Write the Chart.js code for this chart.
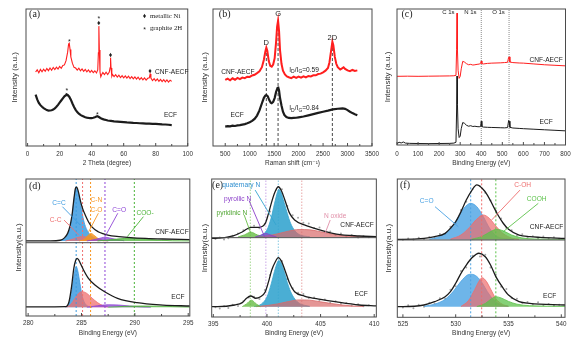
<!DOCTYPE html>
<html><head><meta charset="utf-8">
<script src="https://cdn.jsdelivr.net/npm/chart.js@4/dist/chart.umd.min.js"></script>
<style>
html,body{margin:0;padding:0;background:#fff;width:576px;height:342px;overflow:hidden;position:relative}
canvas{position:absolute}
</style></head><body>
<script>
// ---------- tick labels ----------
const aTicks=[0,20,40,60,80,100];
const bTicks=[500,1000,1500,2000,2500,3000,3500];
const cTicks=[0,100,200,300,400,500,600,700,800];
const dTicks=[280,285,290,295];
const eTicks=[395,400,405,410];
const fTicks=[525,530,535,540];

// ---------- (a) XRD ----------
const xrdCnf=[[5,54.0],[6,55.6],[7,53.4],[8,55.9],[9,54.2],[10,56.1],[11,54.5],[12,56.6],[13,55.0],[14,57.0],[15,55.3],[16,57.3],[17,55.8],[18,57.6],[19,56.1],[20,58.1],[21,56.7],[22,58.8],[23,59.2],[24,62.3],[25,68.5],[25.6,74.5],[26,75.0],[26.5,70.5],[27,65.0],[28,60.3],[29,57.4],[30,56.9],[31,55.4],[32,56.8],[33,54.9],[34,56.2],[35,54.5],[36,55.9],[37,54.2],[38,55.5],[39,53.8],[40,55.2],[41,53.5],[42,54.9],[43,53.3],[43.8,55.5],[44.2,68],[44.5,87.5],[44.8,70],[45.2,54],[45.7,50.5],[46.3,52.2],[47,53.6],[48,52.1],[49,53.8],[50,52.2],[51,53.9],[51.5,57],[51.8,64.5],[52.1,57],[52.6,51.0],[53,52.2],[54,50.6],[55,52.0],[56,50.3],[57,51.7],[58,50.0],[59,51.4],[60,49.8],[61,51.2],[62,49.5],[63,50.9],[64,49.2],[65,50.6],[66,49.0],[67,50.4],[68,48.8],[69,50.2],[70,48.5],[71,49.9],[72,48.3],[73,49.7],[74,48.1],[75,49.4],[76,49.8],[76.5,52.5],[77,49.6],[78,47.8],[79,49.2],[80,47.5],[81,48.9],[82,47.2],[83,48.6],[84,47.0],[85,48.4],[86,46.8],[87,48.2],[88,46.6],[89,48.0],[90,47.2]];
const xrdEcf=[[5,37.5],[6,34.0],[7,31.5],[8,29.8],[9,28.6],[10,27.6],[11,26.9],[12,26.2],[13,25.8],[14,25.9],[15,26.1],[16,26.6],[17,27.5],[18,28.6],[19,30.0],[20,31.6],[21,33.2],[22,34.8],[23,36.3],[24,37.2],[24.5,37.6],[25,37.3],[26,36.0],[27,33.8],[28,31.0],[29,28.5],[30,26.4],[31,24.8],[32,23.6],[33,22.7],[34,22.0],[35,21.5],[36,21.0],[37,20.7],[38,20.5],[39,20.4],[40,20.4],[41,20.6],[42,21.0],[43,21.5],[43.5,21.7],[44,21.5],[45,20.8],[46,20.0],[47,19.6],[48,19.2],[49,19.0],[50,18.6],[52,18.3],[54,18.0],[56,17.8],[58,17.6],[60,17.4],[62,17.2],[64,17.1],[66,16.9],[68,16.8],[70,16.6],[72,16.5],[74,16.4],[76,16.3],[78,16.2],[80,16.1],[82,16.0],[84,15.8],[86,15.7],[88,15.5],[90,15.3]];

// ---------- (b) Raman ----------
const ramanCnf=[[500,48.2],[550,49.2],[600,48.0],[650,49.4],[700,48.4],[750,49.7],[800,48.8],[850,49.9],[900,49.5],[950,50.6],[1000,50.4],[1050,51.5],[1100,52.0],[1150,53.2],[1200,54.5],[1250,57.5],[1290,63],[1320,69],[1340,71.8],[1360,69.5],[1390,62],[1420,58.5],[1450,57.9],[1480,59.5],[1510,64],[1540,76],[1560,87],[1580,91.5],[1600,84],[1620,70],[1650,60],[1680,55],[1720,52.2],[1760,50.8],[1800,50.2],[1850,49.5],[1900,50.6],[1950,49.7],[2000,50.7],[2050,49.9],[2100,50.9],[2150,50.1],[2200,51.1],[2250,50.8],[2300,51.6],[2350,51.6],[2400,52.5],[2450,52.8],[2500,53.8],[2550,55.0],[2600,57.0],[2630,61],[2660,68.5],[2690,76.1],[2710,73.5],[2740,65],[2770,60],[2800,57.5],[2850,55.8],[2880,56.5],[2920,57.5],[2950,56.3],[3000,55.2],[3050,54.6],[3100,55.5],[3150,54.8],[3200,55.2]];
const ramanEcf=[[500,14.1],[550,14.5],[600,14.3],[650,14.8],[700,14.6],[750,15.0],[800,15.2],[850,15.6],[900,16.0],[950,16.6],[1000,17.3],[1050,18.3],[1100,19.8],[1150,22.2],[1200,26],[1250,31.2],[1290,35.2],[1320,36.8],[1340,37.2],[1370,36.2],[1400,33.5],[1430,31.6],[1450,31.2],[1480,32.2],[1510,35],[1540,39.5],[1570,42.4],[1585,42.6],[1600,40.5],[1620,35],[1650,29.5],[1680,25],[1710,22.6],[1750,21.2],[1800,20.5],[1850,20.3],[1900,20.5],[1950,20.6],[2000,20.9],[2100,21.5],[2200,22.4],[2300,23.3],[2400,24.2],[2500,25.0],[2600,25.8],[2700,26.7],[2800,27.2],[2900,27.4],[2950,27.1],[3000,26.2],[3050,25.0],[3100,24.0],[3150,23.2],[3200,22.5]];
const ramanPeaks=[[1340,71],[1580,91.5],[2690,76]];

// ---------- (c) XPS survey ----------
const xpsCnf=[[0,50.5],[50,50.6],[100,50.5],[150,50.6],[200,50.7],[250,50.8],[270,50.9],[280,51.2],[283,70],[285,97],[287,70],[290,55],[295,49],[300,50.5],[305,56],[312,61.5],[320,61],[330,59.8],[340,59.0],[350,59.3],[360,58.8],[370,59.0],[380,59.3],[390,59.5],[397,60.0],[400,61.8],[403,59.8],[410,59.6],[430,60.0],[450,60.2],[470,60.3],[490,60.4],[510,60.6],[525,60.8],[530,64.5],[533,64.8],[536,61.0],[550,60.6],[580,60.3],[600,60.2],[650,59.6],[700,59.0],[750,58.6],[800,58.2]];
const xpsEcf=[[0,1.0],[10,2.0],[20,1.5],[30,2.2],[40,1.4],[60,1.2],[100,1.1],[150,1.0],[200,1.1],[250,1.2],[270,1.4],[280,2.0],[283,25],[285,50.7],[287,30],[290,12],[295,5.5],[300,6.5],[305,12],[312,16.5],[320,16],[330,14.5],[340,13.8],[350,14.2],[360,13.6],[370,13.8],[380,13.5],[390,13.4],[397,13.6],[400,17.5],[403,13.6],[410,13.2],[430,13.0],[450,12.9],[470,12.8],[490,12.7],[510,12.6],[525,12.8],[530,18],[533,17.5],[536,13.0],[550,12.5],[580,12.2],[600,12.0],[650,11.6],[700,11.2],[750,10.8],[800,10.4]];
const xpsLines=[400,532];

// ---------- (d) C 1s ----------
const dCnfEnv=[[279.8,54.8],[282,54.9],[283,55.3],[283.4,57.0],[283.7,60.3],[283.9,65],[284.1,73],[284.3,86],[284.45,93.5],[284.55,94],[284.7,91],[284.9,84],[285.1,78.5],[285.35,73.7],[285.65,68.8],[285.95,65.2],[286.56,61.5],[287.0,60.1],[287.47,59.1],[288.5,58.0],[289.6,57.2],[291,56.6],[292.6,56.2],[295.15,55.8]];
const dCnfCdC=[[283.0,55.0],[283.4,56.5],[283.7,59.5],[283.9,64],[284.1,72],[284.3,85],[284.45,92.8],[284.55,93.2],[284.7,90],[284.9,82],[285.1,73.5],[285.3,67],[285.6,61.5],[286.0,58],[286.5,56.2],[287.0,55.3],[287.5,54.9]];
const dCnfCmC=[[283.5,54.8],[284,55.6],[284.5,57],[285.1,58],[285.7,57.1],[286.3,55.8],[287,55],[287.5,54.8]];
const dCnfCN=[[284.8,54.8],[285.3,56.3],[285.6,58.8],[285.9,60.3],[286.2,58.8],[286.6,56.3],[287.1,54.9]];
const dCnfCO=[[285.5,54.8],[286.3,55.9],[286.9,57.1],[287.2,57.5],[287.6,57.0],[288.3,55.8],[289,54.9]];
const dCnfCOO=[[286.5,54.8],[287.5,55.5],[288.5,56.3],[289.5,56.7],[290.5,56.5],[291.5,55.9],[292.5,55.3],[293.5,54.9],[295.15,54.8]];
const dEcfEnv=[[279.8,6.6],[282,6.7],[283.52,6.8],[283.83,10.4],[284.07,21.4],[284.28,34.8],[284.45,40.5],[284.58,42.1],[284.72,41.2],[284.89,38.5],[285.19,33.6],[285.65,27.5],[286.26,22.6],[287.17,17.7],[288.38,12.9],[290.2,9.7],[292.63,8.0],[295.15,7.3]];
const dEcfCdC=[[283.5,6.4],[283.8,8.5],[284.0,14],[284.2,25],[284.4,34],[284.5,36],[284.65,33],[284.85,24],[285.05,15],[285.3,9.5],[285.6,7.2],[286,6.5]];
const dEcfCmC=[[283.6,6.4],[284.0,8.5],[284.4,13],[284.8,17],[285.1,17.7],[285.5,16.5],[286.0,13],[286.5,9.8],[287.0,7.6],[287.5,6.6]];
const dEcfCO=[[285.5,6.4],[286.5,7.5],[287.5,8.2],[288.5,8.0],[289.5,7.3],[290.5,6.7],[291.5,6.4]];
const dEcfCOO=[[287.5,6.4],[289,7.0],[290.5,7.3],[292,7.2],[293.5,6.9],[295.15,6.6]];
const dLines=[284.5,285.1,285.85,287.2,289.95];

// ---------- (e) N 1s ----------
const eCnfEnv=[[394.85,57],[395.2,57],[396.85,58.7],[397.73,61.8],[398.5,65],[399.25,65],[399.85,67.9],[400.15,75.1],[400.45,83.6],[400.75,90.5],[401.06,94.4],[401.35,91.5],[401.67,84.8],[402.12,75.1],[402.58,70.3],[403.49,66.7],[405.0,63],[406.5,60.1],[408.6,58.7],[410.2,58.2]];
const eCnfQ=[[399.0,58.2],[399.5,59.5],[400.0,63],[400.4,72],[400.7,82],[401.0,91],[401.1,92.5],[401.3,90.5],[401.6,83],[401.9,75],[402.2,68],[402.6,62.5],[403.0,59.8],[403.5,58.6],[404,58.1]];
const eCnfOx=[[399.0,58.0],[400.0,58.8],[401,60.3],[402,62.2],[403,63.4],[404,63.2],[405,61.8],[406,60.2],[407,59],[408,58.3],[409,58.0]];
const eCnfPyd=[[397.3,58],[397.9,59.5],[398.5,61.5],[399.1,59.5],[399.7,58]];
const eCnfPyr=[[398.9,58],[399.4,59.2],[399.9,60.5],[400.4,59.2],[400.9,58]];
const eCnfDots=[[395.2,56.5],[395.6,57.6],[396.0,56.2],[396.4,57.0],[396.8,58.9],[397.3,60.5],[397.8,62.8],[398.3,63.9],[398.8,66.2],[399.3,64.4],[399.8,67.5],[400.3,76.5],[401.4,92.5],[401.9,80.5],[402.4,73.8],[402.9,72.0],[403.4,68.3],[403.9,67.8],[404.4,64.5],[404.9,64.8],[405.4,61.5],[405.9,62.0],[406.4,59.5],[406.9,60.5],[407.4,58.3],[407.9,59.4],[408.5,57.6],[409.0,58.7],[409.5,57.8]];
const eEcfEnv=[[394.85,7.5],[395.4,7.5],[397,8.7],[397.7,10.4],[398.1,13.6],[398.5,15.2],[398.95,13.6],[399.4,14.7],[399.85,18.3],[400.15,25.6],[400.45,34.1],[400.75,39.5],[401.06,43],[401.35,40.5],[401.67,34.1],[402.12,24.4],[402.58,18.3],[403.49,15.2],[405,12.8],[406.5,10.9],[408.6,8.7],[410.2,8]];
const eEcfQ=[[398.8,7.5],[399.5,9.5],[400,14.5],[400.4,24],[400.7,33],[401.0,40],[401.1,41],[401.3,39.5],[401.6,33],[401.9,25],[402.2,18.5],[402.6,13],[403,10],[403.5,8.5],[404,7.8]];
const eEcfOx=[[399,7.5],[400,8.3],[401,9.5],[402,11.2],[403,12.4],[404,12.2],[405,11],[406,9.8],[407,8.7],[408,8],[409,7.6]];
const eEcfPyd=[[397.7,7.5],[398.1,9.5],[398.55,12.2],[399.0,9.5],[399.4,7.5]];
const eEcfDots=[[395.2,7.0],[395.6,6.2],[396.0,7.8],[396.4,6.5],[396.8,8.9],[397.3,8.0],[397.8,11.5],[398.3,14.2],[398.8,14.6],[399.3,13.0],[399.8,19.5],[400.3,30.5],[401.4,40.5],[401.9,27.5],[402.4,20.8],[402.9,17.5],[403.4,16.6],[403.9,13.8],[404.4,14.2],[404.9,12.0],[405.4,12.6],[405.9,10.4],[406.4,11.5],[406.9,9.6],[407.4,10.2],[407.9,8.4],[408.5,9.2],[409.0,7.8],[409.5,8.5]];
const eLines=[398.45,399.9,401.06,403.25];

// ---------- (f) O 1s ----------
const fCnfEnv=[[524.47,56.4],[525,56.4],[527,57.1],[528,58.3],[529,60.7],[529.5,64.4],[530,69.1],[530.5,76.4],[531,84.8],[531.5,91.5],[532,95.7],[532.5,93.3],[533,88.4],[533.5,81.2],[534,74],[534.5,68],[535,63.6],[536,59.5],[537,58.3],[538,57.8],[540.35,57.1]];
const fCnfCdO=[[527.5,56.5],[528.5,58.5],[529.5,64],[530.2,72],[530.8,79],[531.4,82.4],[532,80],[532.6,73],[533.2,64.5],[533.8,59],[534.5,57],[535.5,56.4]];
const fCnfCOH=[[529.5,56.5],[530.5,59.5],[531.3,65],[532,71],[532.6,74],[533.2,71.5],[533.8,66],[534.5,60.5],[535.3,57.3],[536,56.5]];
const fCnfCOOH=[[531.5,56.4],[532.5,58.5],[533.3,62],[533.9,63.6],[534.5,62.5],[535.3,59.5],[536.2,57.5],[537.5,56.6],[540.35,56.4]];
const fCnfDots=[[525.0,56.0],[525.5,57.0],[526.0,56.2],[526.5,57.5],[527.0,56.6],[527.5,58.0],[528.0,57.5],[528.5,60.2],[529.0,60.0],[529.5,65.5],[530.0,68.0],[530.5,77.5],[531.0,83.5],[531.6,92.5],[532.3,94.8],[532.8,90.0],[533.3,84.5],[533.8,77.0],[534.3,71.5],[534.8,64.5],[535.3,63.0],[535.8,59.0],[536.3,60.0],[536.8,57.5],[537.3,58.6],[537.8,57.2],[538.3,58.4],[538.8,57.0],[539.3,57.9],[539.8,56.8]];
const fEcfEnv=[[524.47,7.7],[525,7.7],[527,8.9],[528,11.3],[529,14.9],[529.5,18.5],[530,24.6],[530.5,31.8],[531,37.8],[531.5,42.7],[532.2,46.3],[532.8,43.8],[533.3,37.8],[533.8,29.4],[534.5,21],[535,16.1],[536,11.3],[537,10.1],[540.35,8.9]];
const fEcfCdO=[[527,8],[528,9.5],[529,13],[529.8,19],[530.5,26],[531.1,30.5],[531.5,31.1],[532,29.5],[532.5,25],[533,18.5],[533.6,12.5],[534.3,9],[535,8]];
const fEcfCOH=[[530.5,7.8],[531.2,12],[531.8,20],[532.2,26],[532.5,28.6],[532.9,26],[533.3,20.5],[533.8,13.5],[534.4,9.5],[535,8]];
const fEcfCOOH=[[532,7.8],[532.8,10],[533.4,13.5],[533.8,14.9],[534.3,14],[535,11.5],[535.8,9.5],[537,8.4],[540.35,7.9]];
const fEcfDots=[[525.0,7.0],[525.5,8.8],[526.0,6.5],[526.5,9.0],[527.0,7.6],[527.5,10.5],[528.0,10.0],[528.5,13.8],[529.0,13.5],[529.5,20.0],[530.0,22.5],[530.5,33.5],[531.0,36.0],[531.6,44.5],[532.3,44.0],[532.8,45.2],[533.3,36.0],[533.8,31.0],[534.3,22.0],[534.8,20.5],[535.3,14.0],[535.8,13.5],[536.3,10.5],[536.8,11.0],[537.3,9.2],[537.8,10.8],[538.3,8.8],[538.8,9.6],[539.3,8.4],[539.8,9.0]];
const fLines=[531.42,532.46,533.8];

// ---------- helpers ----------
const SANS='"Liberation Sans", Arial, "DejaVu Sans", sans-serif';
const SERIF='"Liberation Serif", "Times New Roman", "DejaVu Serif", serif';
Chart.defaults.font.family=SANS;
const RED='#ff1e1e', BLK='#1c1c1c';
function P(a){return a.map(p=>({x:p[0],y:p[1]}));}
function line(a,color,w,extra){return Object.assign({data:P(a),borderColor:color,borderWidth:w,pointRadius:0,tension:0,fill:false},extra||{});}
function smooth(a,color,w){return {data:P(a),borderColor:color,borderWidth:w,pointRadius:0,cubicInterpolationMode:'monotone',fill:false};}
function area(a,stroke,fillc,base){return {data:P(a),borderColor:stroke,borderWidth:0.8,backgroundColor:fillc,pointRadius:0,cubicInterpolationMode:'monotone',fill:{value:base}};}
function vline(x,y0,y1,color,dash,w){return {data:[{x:x,y:y0},{x:x,y:y1}],borderColor:color,borderWidth:w||1,borderDash:dash||[],pointRadius:0,fill:false};}
function seg(a,color){return {data:P(a),borderColor:color,borderWidth:0.9,pointRadius:0,fill:false};}
function dots(a,color){return {data:P(a),showLine:false,pointRadius:1,pointBackgroundColor:color,pointBorderWidth:0,borderColor:color};}

function makePanel(o){
  const cv=document.createElement('canvas');
  cv.width=o.w; cv.height=o.h;
  cv.style.left=o.left+'px'; cv.style.top=o.top+'px';
  cv.style.width=o.w+'px'; cv.style.height=o.h+'px';
  document.body.appendChild(cv);
  const n=o.datasets.length;
  o.datasets.forEach((d,i)=>{d.order=n-i;});
  const deco={id:'deco',afterDraw(ch){
    const ctx=ch.ctx,a=ch.chartArea,xs=ch.scales.x,ys=ch.scales.y;
    ctx.save();
    ctx.strokeStyle='#4b4b4b'; ctx.lineWidth=1;
    ctx.strokeRect(a.left,a.top,a.right-a.left,a.bottom-a.top);
    const t=xs.ticks.map(k=>k.value);
    ctx.beginPath();
    t.forEach((v,i)=>{const px=xs.getPixelForValue(v);ctx.moveTo(px,a.bottom);ctx.lineTo(px,a.bottom-3);
      if(i<t.length-1){const pm=xs.getPixelForValue((v+t[i+1])/2);ctx.moveTo(pm,a.bottom);ctx.lineTo(pm,a.bottom-2);}});
    ctx.stroke();
    if(o.divider!=null){const py=ys.getPixelForValue(o.divider);ctx.beginPath();ctx.moveTo(a.left,py);ctx.lineTo(a.right,py);ctx.stroke();}
    (o.notes||[]).forEach(it=>{
      const px=xs.getPixelForValue(it.x), py=ys.getPixelForValue(it.y)+(it.dy||0);
      const font=it.f||('6.6px '+SANS);
      ctx.fillStyle=it.c||'#222'; ctx.textBaseline='middle';
      if(it.parts){
        let x=px;
        it.parts.forEach(p=>{ctx.font=p.s?('5px '+SANS):font;ctx.textAlign='left';ctx.fillText(p.t,x,py+(p.s?1.8:0));x+=ctx.measureText(p.t).width;});
      } else {ctx.font=font;ctx.textAlign=it.a||'center';ctx.fillText(it.t,px,py);}
    });
    ctx.restore();
  }};
  new Chart(cv,{type:'line',data:{datasets:o.datasets},options:{
    animation:false,responsive:false,devicePixelRatio:1,events:[],
    layout:{padding:{left:0,top:o.padTop,right:o.padRight,bottom:0}},
    plugins:{legend:{display:false},tooltip:{enabled:false}},
    scales:{
      x:{type:'linear',min:o.xmin,max:o.xmax,
        grid:{display:false,drawTicks:false},border:{display:false},
        afterBuildTicks:s=>{s.ticks=o.xticks.map(v=>({value:v}));},
        afterFit:s=>{s.height=o.xH;},
        ticks:{autoSkip:false,maxRotation:0,minRotation:0,padding:o.tickPad,font:{family:SANS,size:6.3},color:'#333',callback:v=>String(v)},
        title:{display:true,text:o.xTitle,font:{family:SANS,size:6.5},color:'#333',padding:{top:0,bottom:o.xTitlePad}}},
      y:{type:'linear',min:0,max:100,
        grid:{display:false,drawTicks:false},border:{display:false},
        ticks:{display:false},
        afterFit:s=>{s.width=o.yW;},
        title:{display:true,text:o.yTitle,font:{family:SANS,size:8},color:'#333',padding:{top:o.yTitlePad,bottom:0}}}
    }},plugins:[deco]});
}

// colours
const C={dBlue:'#3d9be0',dRed:'#ef6f6f',dOr:'#f7951f',dPu:'#8e45d6',dGr:'#4cb338',
 eBlue:'#36a5cf',eRed:'#d86a6a',eGr:'#66bd45',ePu:'#8b3fc9',ePink:'#e08fa8',
 fBlue:'#4aa2e3',fRed:'#ee6c6c',fGr:'#5cc24a'};
const SER10='10px '+SERIF;

// ---------- panel (a) ----------
makePanel({left:0,top:0,w:197,h:171,padTop:9,padRight:4,yW:26,xH:25,tickPad:4,xTitlePad:4.1,yTitlePad:10.2,
  xmin:-1,xmax:100,xticks:aTicks,xTitle:'2 Theta (degree)',yTitle:'Intensity (a.u.)',
  datasets:[line(xrdEcf,BLK,2.2),line(xrdCnf,RED,1.1)],
  notes:[{x:4.4,y:96.4,t:'(a)',f:SER10},
    {x:26.0,y:77.4,t:'*',f:'7px '+SANS,dy:2},{x:44.5,y:94.4,t:'*',f:'7px '+SANS,dy:2},{x:44.5,y:89.6,t:'♦',f:'7px '+SANS},
    {x:51.8,y:66.6,t:'♦',f:'7px '+SANS},{x:76.5,y:55,t:'♦',f:'7px '+SANS},{x:79.6,y:54.2,t:'CNF-AECF',a:'left'},
    {x:24.5,y:41.4,t:'*',f:'7px '+SANS,dy:2},{x:43.5,y:24.3,t:'*',f:'7px '+SANS,dy:2},{x:85.1,y:22.6,t:'ECF',a:'left'},
    {x:73,y:94.9,t:'♦',f:'7px '+SANS},{x:76.4,y:94.9,t:'metallic Ni',a:'left',f:'6.8px '+SERIF},
    {x:73,y:86.1,t:'*',f:'7px '+SANS,dy:2},{x:76.4,y:86.1,t:'graphite 2H',a:'left',f:'6.8px '+SERIF}]});

// ---------- panel (b) ----------
makePanel({left:197,top:0,w:186,h:171,padTop:9,padRight:2,yW:16,xH:25,tickPad:4,xTitlePad:4.1,yTitlePad:3.2,
  xmin:250,xmax:3500,xticks:bTicks,xTitle:'Raman shift (cm\u207B\u00B9)',yTitle:'Intensity (a.u.)',
  datasets:[...ramanPeaks.map(p=>vline(p[0],0,p[1],'#333',[3,2],0.9)),line(ramanEcf,BLK,2.2),line(ramanCnf,RED,2)],
  notes:[{x:488,y:96.4,t:'(b)',f:SER10},
    {x:1340,y:75.5,t:'D',f:'7.5px '+SANS},{x:1580,y:96.4,t:'G',f:'7.5px '+SANS},{x:2690,y:79,t:'2D',f:'7.5px '+SANS},
    {x:758,y:54.2,t:'CNF-AECF'},{x:745,y:22.6,t:'ECF'},
    {x:1809,y:55.5,parts:[{t:'I'},{t:'D',s:1},{t:'/I'},{t:'G',s:1},{t:'=0.59'}]},
    {x:1809,y:27.5,parts:[{t:'I'},{t:'D',s:1},{t:'/I'},{t:'G',s:1},{t:'=0.84'}]}]});

// ---------- panel (c) ----------
makePanel({left:383,top:0,w:193,h:171,padTop:9,padRight:10.5,yW:14,xH:26,tickPad:5,xTitlePad:4.1,yTitlePad:0,
  xmin:0,xmax:800,xticks:cTicks,xTitle:'Binding Energy (eV)',yTitle:'Intensity (a.u.)',
  datasets:[...xpsLines.map(x=>vline(x,0,100,'#8a8a8a',[1,1],1)),line(xpsEcf,BLK,1),line(xpsCnf,RED,1)],
  notes:[{x:47.6,y:96.3,t:'(c)',f:SER10},
    {x:244,y:97.3,t:'C 1s',f:'6px '+SANS},{x:348,y:97.3,t:'N 1s',f:'6px '+SANS},{x:482,y:97.3,t:'O 1s',f:'6px '+SANS},
    {x:708,y:62.5,t:'CNF-AECF'},{x:708,y:17.1,t:'ECF'}]});

// ---------- panel (d) ----------
makePanel({left:0,top:171,w:197,h:171,padTop:8,padRight:3,yW:26,xH:26,tickPad:3.5,xTitlePad:4.8,yTitlePad:13.5,divider:53.5,
  xmin:279.8,xmax:295.15,xticks:dTicks,xTitle:'Binding Energy (eV)',yTitle:'Intensity(a.u.)',
  datasets:[
    area(dCnfCdC,C.dBlue,'rgba(61,155,224,0.85)',54.7),area(dCnfCmC,C.dRed,'rgba(239,111,111,0.7)',54.7),
    area(dCnfCN,C.dOr,'rgba(247,149,31,0.85)',54.7),area(dCnfCO,C.dPu,'rgba(142,69,214,0.75)',54.7),area(dCnfCOO,C.dGr,'rgba(76,179,56,0.75)',54.7),
    area(dEcfCdC,C.dBlue,'rgba(61,155,224,0.85)',6.3),area(dEcfCmC,C.dRed,'rgba(239,111,111,0.75)',6.3),
    area(dEcfCO,C.dPu,'rgba(142,69,214,0.75)',6.3),area(dEcfCOO,C.dGr,'rgba(76,179,56,0.75)',6.3),
    vline(dLines[0],0,100,C.dBlue,[2,2],1),vline(dLines[1],0,100,C.dRed,[2,2],1),vline(dLines[2],0,100,C.dOr,[2,2],1),
    vline(dLines[3],0,100,C.dPu,[2,2],1),vline(dLines[4],0,100,C.dGr,[2,2],1),
    smooth(dCnfEnv,BLK,1.3),smooth(dEcfEnv,BLK,1.3),
    seg([[283.21,79.8],[284.89,66.4]],C.dBlue),seg([[283.37,70],[284.74,59.1]],C.dRed),seg([[286.58,75],[285.67,61.5]],C.dOr),
    seg([[288.4,75],[287.2,57.9]],C.dPu),seg([[290.8,72.5],[289.29,57.9]],C.dGr)],
  notes:[{x:280.62,y:94.9,t:'(d)',f:SER10},
    {x:282.89,y:82.7,t:'C=C',c:C.dBlue},{x:282.58,y:70.1,t:'C-C',c:C.dRed},{x:286.4,y:84.7,t:'C-N',c:C.dOr},{x:286.4,y:77.4,t:'C-O',c:C.dOr},
    {x:288.53,y:77.4,t:'C=O',c:C.dPu},{x:290.95,y:75,t:'COO-',c:C.dGr},{x:293.48,y:61.5,t:'CNF-AECF'},{x:294.03,y:14.1,t:'ECF'}]});

// ---------- panel (e) ----------
makePanel({left:197,top:171,w:186,h:171,padTop:8,padRight:2.3,yW:14.7,xH:25,tickPad:3.5,xTitlePad:4.8,yTitlePad:3.2,divider:57.5,
  xmin:394.85,xmax:410.2,xticks:eTicks,xTitle:'Binding Energy (eV)',yTitle:'Intensity(a.u.)',
  datasets:[
    vline(eLines[0],0,100,'rgba(102,189,69,0.6)',[1.5,1.5],1),vline(eLines[1],0,100,'rgba(139,63,201,0.45)',[1.5,1.5],1),
    vline(eLines[2],0,100,'rgba(54,165,207,0.6)',[1.5,1.5],1),vline(eLines[3],0,100,'rgba(216,106,106,0.6)',[1.5,1.5],1),
    dots(eCnfDots,'#a5a5a5'),dots(eEcfDots,'#a5a5a5'),
    area(eCnfQ,C.eBlue,'rgba(54,165,207,0.9)',58),area(eCnfOx,C.eRed,'rgba(216,106,106,0.7)',58),
    area(eCnfPyd,C.eGr,'rgba(102,189,69,0.8)',58),area(eCnfPyr,C.ePu,'rgba(139,63,201,0.5)',58),
    area(eEcfQ,C.eBlue,'rgba(54,165,207,0.9)',7.5),area(eEcfOx,C.eRed,'rgba(216,106,106,0.7)',7.5),area(eEcfPyd,C.eGr,'rgba(102,189,69,0.8)',7.5),
    smooth(eCnfEnv,BLK,1.3),smooth(eEcfEnv,BLK,1.3),
    seg([[398.9,92],[400.85,66.7]],C.eBlue),seg([[398.34,84.3],[399.78,58.2]],C.ePu),seg([[397.88,73.9],[398.49,60.7]],C.eGr),
    seg([[405.9,70.3],[405.3,58.2]],C.ePink)],
  notes:[{x:395.4,y:95.7,t:'(e)',f:SER10},
    {x:397.6,y:95.4,t:'quaternary N',c:'#2f8fd0'},{x:397.27,y:85.7,t:'pyrollic N',c:C.ePu},{x:396.73,y:75.1,t:'pyridinic N',c:'#4fa530'},
    {x:406.36,y:73.2,t:'N oxide',c:C.ePink},{x:408.4,y:66.7,t:'CNF-AECF'},{x:408.79,y:16.7,t:'ECF'}]});

// ---------- panel (f) ----------
makePanel({left:383,top:171,w:193,h:171,padTop:8,padRight:11,yW:14.3,xH:24.7,tickPad:3.5,xTitlePad:4.8,yTitlePad:0.5,divider:55.9,
  xmin:524.47,xmax:540.35,xticks:fTicks,xTitle:'Binding Energy (eV)',yTitle:'Intensity(a.u.)',
  datasets:[
    dots(fCnfDots,'#a5a5a5'),dots(fEcfDots,'#a5a5a5'),
    area(fCnfCdO,C.fBlue,'rgba(74,162,227,0.8)',56.3),area(fCnfCOH,C.fRed,'rgba(238,108,108,0.7)',56.3),area(fCnfCOOH,C.fGr,'rgba(92,194,74,0.75)',56.3),
    area(fEcfCdO,C.fBlue,'rgba(74,162,227,0.8)',7.7),area(fEcfCOH,C.fRed,'rgba(238,108,108,0.7)',7.7),area(fEcfCOOH,C.fGr,'rgba(92,194,74,0.75)',7.7),
    vline(fLines[0],0,100,C.fBlue,[2,2],1),vline(fLines[1],0,100,C.fRed,[2,2],1),vline(fLines[2],0,100,C.fGr,[2,2],1),
    smooth(fCnfEnv,BLK,1.3),smooth(fEcfEnv,BLK,1.3),
    seg([[528.04,80],[530.25,65.5]],C.fBlue),seg([[536.09,92],[533.41,70.4]],C.fRed),seg([[537.82,82.4],[534.5,61.9]],C.fGr)],
  notes:[{x:525.2,y:95.2,t:'(f)',f:SER10},
    {x:527.25,y:84.1,t:'C=O',c:C.fBlue},{x:536.34,y:95.7,t:'C-OH',c:C.fRed},{x:537.67,y:85.3,t:'COOH',c:C.fGr},
    {x:538.6,y:65.5,t:'CNF-AECF'},{x:538.9,y:15.4,t:'ECF'}]});
</script>
</body></html>
